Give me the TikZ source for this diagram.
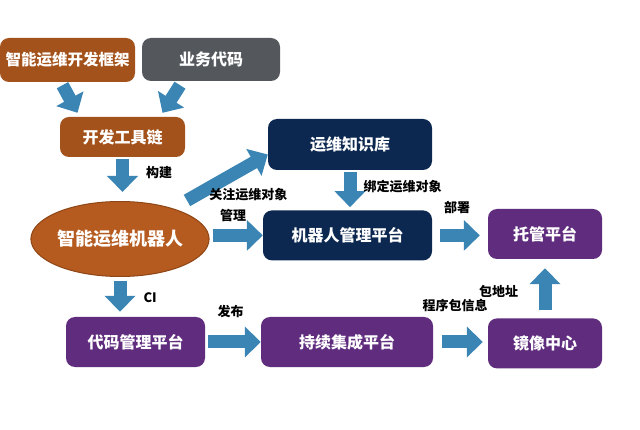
\documentclass[tikz,border=0pt]{standalone}
\usepackage{fontspec}
\usepackage{tikz}
\usetikzlibrary{arrows.meta,positioning,shapes.geometric}
\newfontfamily\cjk{Noto Sans CJK SC}
\definecolor{OpsBrown}{HTML}{A4521C}
\definecolor{OpsOrange}{HTML}{B55B1F}
\definecolor{OpsOrangeDark}{HTML}{8F4515}
\definecolor{OpsGray}{HTML}{54585D}
\definecolor{OpsNavy}{HTML}{0C2850}
\definecolor{OpsPurple}{HTML}{5F2C7E}
\definecolor{OpsBlue}{HTML}{3A85B4}
\tikzset{
  opsbox/.style={rounded corners=9pt, text=white, align=center, inner sep=0pt,
    font=\cjk\bfseries\fontsize{16}{18}\selectfont, minimum height=50pt},
  brownbox/.style={opsbox, fill=OpsBrown},
  graybox/.style={opsbox, fill=OpsGray},
  navybox/.style={opsbox, fill=OpsNavy},
  purplebox/.style={opsbox, fill=OpsPurple},
  robotnode/.style={ellipse, fill=OpsOrange, draw=OpsOrangeDark, line width=1pt,
    text=white, inner sep=0pt, font=\cjk\bfseries\fontsize{18}{20}\selectfont},
  flowarrow/.style={-{Triangle[width=30pt,length=16pt]}, line width=13pt, draw=OpsBlue},
  flowlabel/.style={font=\cjk\bfseries\fontsize{13}{15}\selectfont, text=black, inner sep=0pt}
}
\begin{document}
\begin{tikzpicture}[x=1pt, y=-1pt]
  \useasboundingbox[fill=white] (0,0) rectangle (640,430);

  \node[brownbox, minimum width=135pt, minimum height=44pt,
    font=\cjk\bfseries\fontsize{15.5}{18}\selectfont] (frame) at (67.5,60) {智能运维开发框架};
  \node[graybox, minimum width=138pt, minimum height=43pt] (biz) at (211,59.5) {业务代码};
  \node[brownbox, minimum width=125pt, minimum height=40pt] (tool) at (122.5,137) {开发工具链};
  \node[robotnode, minimum width=170pt, minimum height=75pt] (robot) at (120,239) {智能运维机器人};

  \node[navybox, minimum width=164pt, minimum height=51pt] (kb) at (350,144.5) {运维知识库};
  \node[navybox, minimum width=169pt, below=40pt of kb.south, anchor=north,
    xshift=-2.5pt] (botmgr) {机器人管理平台};
  \node[purplebox, minimum width=114pt] (host) at (545,234) {托管平台};
  \node[purplebox, minimum width=114pt, below=59pt of host] (mirror) {镜像中心};

  \node[purplebox, minimum width=139pt] (code) at (135.5,342) {代码管理平台};
  \node[purplebox, minimum width=172pt] (ci) at (347,342) {持续集成平台};

  % inputs of the tool chain
  \draw[flowarrow] ([xshift=-5pt,yshift=-3pt]frame.south) -- ([xshift=-45pt,yshift=4pt]tool.north);
  \draw[flowarrow] ([xshift=-31pt,yshift=-4pt]biz.south) -- ([xshift=40pt,yshift=4pt]tool.north);
  \draw[flowarrow] ([yshift=-2pt]tool.south) -- node[flowlabel, pos=0.4, right=17pt] {构建}
    ([yshift=9pt]tool.south |- robot.north);

  % robot to the platforms
  \draw[flowarrow, shorten <=16pt] (robot.30) --
    node[flowlabel, midway, xshift=28pt, yshift=-13pt] {关注运维对象} ([yshift=-10pt]kb.west);
  \draw[flowarrow, shorten <=3pt] (robot.east |- botmgr.west) --
    node[flowlabel, midway, above=7pt, xshift=-3pt] {管理} (botmgr.west);
  \draw[flowarrow] ([yshift=-2pt]kb.south) --
    node[flowlabel, midway, right=7pt, yshift=3pt] {绑定运维对象} ([yshift=3pt]kb.south |- botmgr.north);
  \draw[flowarrow, shorten <=8pt, shorten >=8pt] (botmgr.east) --
    node[flowlabel, midway, above=15.5pt, xshift=-3pt] {部署} (botmgr.east -| host.west);
  \draw[flowarrow, shorten <=4pt, shorten >=5pt] (robot.south) --
    node[flowlabel, midway, right=17pt, yshift=-1pt] {CI} (robot.south |- code.north);

  % release chain
  \draw[flowarrow, shorten <=3pt] (code.east) --
    node[flowlabel, midway, above=17.5pt, xshift=-2.5pt] {发布} (ci.west);
  \draw[flowarrow, shorten <=9pt, shorten >=5pt] (ci.east) --
    node[flowlabel, midway, above=23.5pt, xshift=-5.5pt] {程序包信息} (ci.east -| mirror.west);
  \draw[flowarrow, shorten <=8pt, shorten >=9pt] (mirror.north) --
    node[flowlabel, midway, left=20.5pt, yshift=-3pt] {包地址} (host.south);
\end{tikzpicture}
\end{document}
